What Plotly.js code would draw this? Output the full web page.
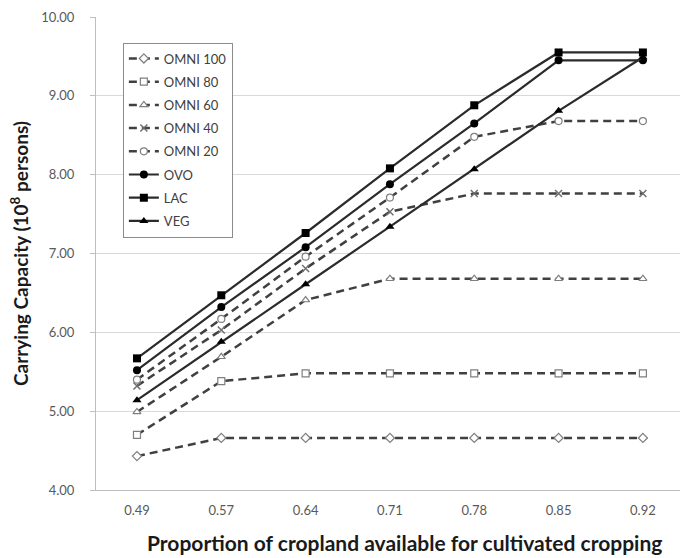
<!DOCTYPE html>
<html>
<head>
<meta charset="utf-8">
<script src="https://cdn.plot.ly/plotly-3.0.1.min.js"></script>
<style>html,body{margin:0;padding:0;background:#fff;}#chart{width:683px;height:558px;}</style>
</head>
<body>
<div id="chart"></div>
<script>
const categories = ['0.49','0.57','0.64','0.71','0.78','0.85','0.92'];
const seriesNames = ['OMNI 100','OMNI 80','OMNI 60','OMNI 40','OMNI 20','OVO','LAC','VEG'];
const omni100 = [4.43, 4.66, 4.66, 4.66, 4.66, 4.66, 4.66];
const omni80  = [4.70, 5.38, 5.48, 5.48, 5.48, 5.48, 5.48];
const omni60  = [4.99, 5.69, 6.41, 6.68, 6.68, 6.68, 6.68];
const omni40  = [5.32, 6.03, 6.81, 7.53, 7.76, 7.76, 7.76];
const omni20  = [5.40, 6.17, 6.96, 7.71, 8.48, 8.68, 8.68];
const ovo     = [5.52, 6.32, 7.08, 7.88, 8.65, 9.45, 9.45];
const lac     = [5.67, 6.47, 7.26, 8.08, 8.88, 9.55, 9.55];
const veg     = [5.14, 5.88, 6.61, 7.34, 8.07, 8.81, 9.49];
const yTicks = [4, 5, 6, 7, 8, 9, 10];
const xTitle = 'Proportion of cropland available for cultivated cropping';
const yTitle = 'Carrying Capacity (10<sup>8</sup> persons)';

const values = [omni100, omni80, omni60, omni40, omni20, ovo, lac, veg];
const symbols = ['diamond','square','triangle-up','x-thin-open','circle','circle','square','triangle-up'];
const dashed = [true,true,true,true,true,false,false,false];

const traces = values.map((v, i) => {
  const isDash = dashed[i];
  const isX = symbols[i] === 'x-thin-open';
  return {
    x: categories,
    y: v,
    name: seriesNames[i],
    legendgroup: 'g' + i,
    type: 'scatter',
    mode: 'lines+markers',
    line: isDash ? {color: '#404040', width: 2.5, dash: '8px,5px'} : {color: '#2b2b2b', width: 2.2},
    marker: isDash ? {
      symbol: symbols[i], size: 7,
      color: isX ? '#6f6f6f' : '#ffffff', line: {color: '#7f7f7f', width: isX ? 1.5 : 1.2}
    } : {
      symbol: symbols[i], size: 8, color: '#000000', line: {color: '#000000', width: 0}
    }
  };
});

const layout = {
  width: 683, height: 558,
  margin: {l: 96, r: 3, t: 16.5, b: 68},
  paper_bgcolor: '#ffffff', plot_bgcolor: '#ffffff',
  font: {family: 'Lato, "Open Sans", sans-serif', color: '#595959'},
  showlegend: true,
  legend: {
    x: 0.046, y: 0.946, xanchor: 'left', yanchor: 'top',
    bgcolor: '#ffffff', bordercolor: '#8c8c8c', borderwidth: 1,
    font: {size: 13, color: '#404040', family: 'Lato, sans-serif'},
    tracegroupgap: 3.3
  },
  xaxis: {
    type: 'category',
    range: [-0.486, 6.44],
    showgrid: false,
    showline: true, linecolor: '#bfbfbf', linewidth: 1,
    ticks: '', zeroline: false,
    ticklabelstandoff: 8,
    tickfont: {size: 13, color: '#595959'}
  },
  yaxis: {
    range: [4, 10],
    tickvals: yTicks,
    tickformat: '.2f',
    showgrid: true, gridcolor: '#d9d9d9', gridwidth: 1,
    showline: true, linecolor: '#bfbfbf', linewidth: 1,
    ticks: 'outside', ticklen: 5, tickcolor: '#bfbfbf',
    ticklabelstandoff: 13,
    zeroline: false,
    tickfont: {size: 13, color: '#595959'},
    title: {text: yTitle,
            font: {size: 19, color: '#1a1a1a', family: 'Lato, sans-serif', weight: 'bold'}, standoff: 7}
  },
  annotations: [{
    text: xTitle, xref: 'paper', yref: 'paper', x: 0.529, y: -0.112,
    xanchor: 'center', yanchor: 'middle', showarrow: false,
    font: {size: 21, color: '#1a1a1a', family: 'Lato, sans-serif', weight: 'bold'}
  }]
};

Plotly.newPlot('chart', traces, layout, {displayModeBar: false, staticPlot: true});
</script>
</body>
</html>
